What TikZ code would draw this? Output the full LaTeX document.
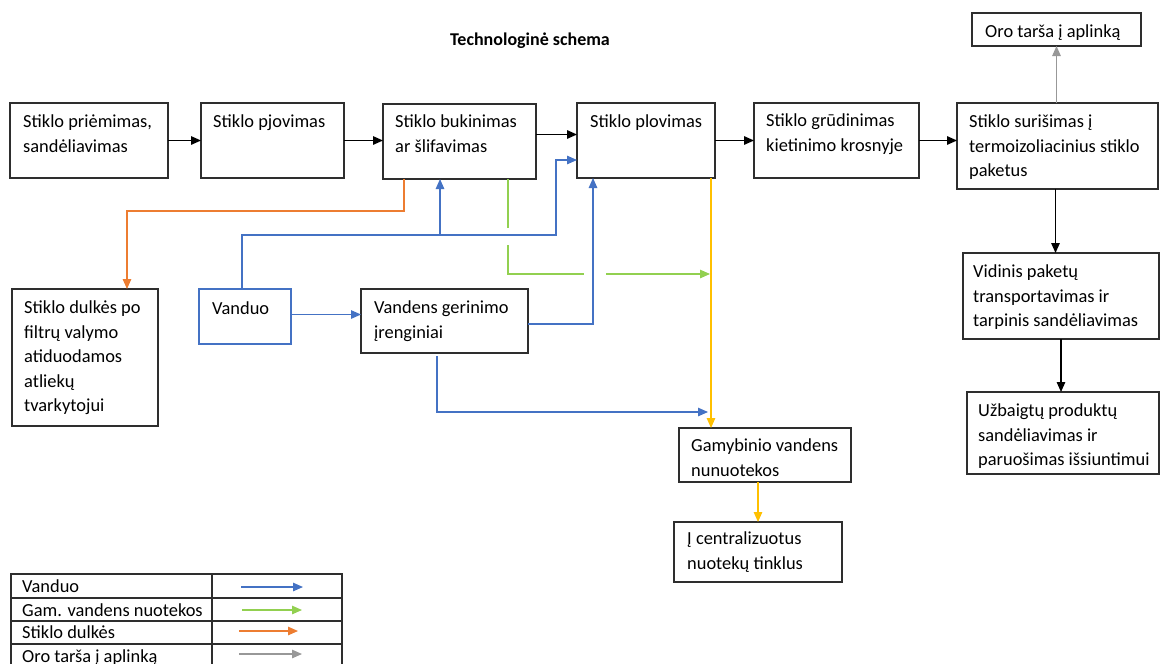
\documentclass[tikz,border=0pt]{standalone}
\usepackage{fontspec}
\setmainfont{Carlito}
\usetikzlibrary{arrows.meta}
\definecolor{cblue}{HTML}{4472C4}
\definecolor{cgreen}{HTML}{92D050}
\definecolor{corange}{HTML}{ED7D31}
\definecolor{cyellow}{HTML}{FFC000}
\definecolor{cgray}{HTML}{989898}
\begin{document}
\begin{tikzpicture}[x=1pt,y=-1pt,
  box/.style={draw=black!82, line width=1.3pt, anchor=north west, inner sep=0pt, outer sep=0pt},
  wbox/.style={box, draw=cblue, line width=1.1pt},
  txt/.style={anchor=north west, yshift=11pt, align=left, inner sep=0pt,
    font=\fontsize{18.4}{24.4}\selectfont, execute at begin node={\rule{0pt}{13pt}}},
  tip/.style={-{Triangle[length=10pt,width=8.5pt]}},
  blk/.style={tip, line width=1.4pt, black},
  bl/.style={line width=1.2pt, cblue},
  gr/.style={line width=1.2pt, cgreen},
  orl/.style={line width=1.2pt, corange},
  yel/.style={line width=1.2pt, cyellow},
  gry/.style={line width=1.2pt, cgray},
  legline/.style={draw=black!82, line width=1.1pt}]
\useasboundingbox (0,0) rectangle (1160,664);
\fill[white] (0,0) rectangle (1160,664);

% title
\node[anchor=base, inner sep=0pt, font=\fontsize{18}{24}\selectfont\bfseries] (title) at (530,45) {Technologinė schema};

% boxes
\node[box, minimum width=158pt, minimum height=75pt] (b1) at (10,103) {};
\node[box, minimum width=143pt, minimum height=75pt] (b2) at (201,103) {};
\node[box, minimum width=153pt, minimum height=75pt] (b3) at (383,104) {};
\node[box, minimum width=138pt, minimum height=75pt] (b4) at (577,103) {};
\node[box, minimum width=165pt, minimum height=75pt] (b5) at (754,103) {};
\node[box, minimum width=201pt, minimum height=86pt] (b6) at (957,103) {};
\node[box, minimum width=169pt, minimum height=33pt] (oro) at (972,13) {};
\node[box, minimum width=196pt, minimum height=86pt] (b7) at (963,253) {};
\node[box, minimum width=192pt, minimum height=82pt] (b8) at (967,392) {};
\node[box, minimum width=146pt, minimum height=137pt] (dust) at (12,289) {};
\node[wbox, minimum width=92pt, minimum height=55pt] (van) at (199,289) {};
\node[box, minimum width=167pt, minimum height=64pt] (ger) at (361,289) {};
\node[box, minimum width=172pt, minimum height=54pt] (gam) at (679,428) {};
\node[box, minimum width=168pt, minimum height=60pt] (cen) at (674,522) {};

% texts (coordinates are first-line baselines minus 2)
\node[txt] (t1) at (23,126) {Stiklo priėmimas,\\sandėliavimas};
\node[txt] (t2) at (213,125) {Stiklo pjovimas};
\node[txt] (t3) at (395,126) {Stiklo bukinimas\\ar šlifavimas};
\node[txt] (t4) at (590,125) {Stiklo plovimas};
\node[txt] (t5) at (766,125) {Stiklo grūdinimas\\kietinimo krosnyje};
\node[txt] (t6) at (969,126) {Stiklo surišimas į\\termoizoliacinius stiklo\\paketus};
\node[txt] (toro) at (985,35) {Oro tarša į aplinką};
\node[txt] (t7) at (973,276) {Vidinis paketų\\transportavimas ir\\tarpinis sandėliavimas};
\node[txt] (t8) at (978,415) {Užbaigtų produktų\\sandėliavimas ir\\paruošimas išsiuntimui};
\node[txt] (tdust) at (24,312) {Stiklo dulkės po\\filtrų valymo\\atiduodamos\\atliekų\\tvarkytojui};
\node[txt] (tvan) at (212,312) {Vanduo};
\node[txt] (tger) at (374,312) {Vandens gerinimo\\įrenginiai};
\node[txt] (tgam) at (691,450) {Gamybinio vandens\\nunuotekos};
\node[txt] (tcen) at (687,543) {Į centralizuotus\\nuotekų tinklus};

% main black flow
\coordinate (c34) at ([yshift=7pt]b3.east);
\draw[blk] (b1.east) -- (b1.east -| b2.west);
\draw[blk] (b2.east) -- (b2.east -| b3.west);
\draw[blk] (c34) -- (c34 -| b4.west);
\draw[blk] (b4.east) -- (b4.east -| b5.west);
\draw[blk] (b5.east) -- (b5.east -| b6.west);
\coordinate (c67) at ([xshift=-2pt]b6.south);
\draw[blk] (c67) -- (c67 |- b7.north);
\draw[blk] (b7.south) -- (b7.south |- b8.north);

% gray: air pollution
\draw[gry, tip] (oro.south |- b6.north) -- (oro.south);

% orange: glass dust
\coordinate (oa) at (404,211);
\coordinate (ob) at (127,211);
\draw[orl, tip] (oa |- b3.south) -- (oa) -- (ob) -- (ob |- dust.north);

% green: process waste water
\coordinate (ga1) at (508,228);
\coordinate (ga2) at (508,245);
\coordinate (ga3) at (508,274);
\coordinate (ga4) at (584,274);
\coordinate (ga5) at (606,274);
\coordinate (ga6) at (710,274);
\draw[gr] (ga1 |- b3.south) -- (ga1);
\draw[gr] (ga2) -- (ga3) -- (ga4);
\draw[gr, tip] (ga5) -- (ga6);

% blue: water
\coordinate (wa) at (242,235);
\coordinate (wb) at (556,235);
\coordinate (wc) at (556,160);
\coordinate (wd) at (440,235);
\draw[bl, tip] (wa |- van.north) -- (wa) -- (wb) -- (wc) -- (wc -| b4.west);
\draw[bl, tip] (wd) -- (wd |- b3.south);
\draw[bl, tip] ([yshift=2pt]van.east) -- ([yshift=2pt]van.east -| ger.west);
\coordinate (ge) at (593,324);
\draw[bl, tip] (ge -| ger.east) -- (ge) -- (ge |- b4.south);
\coordinate (gf) at (437,412);
\coordinate (gg) at (708,412);
\draw[bl, tip] ([yshift=-3pt]gf |- ger.south) -- (gf) -- (gg);

% yellow: waste water
\coordinate (ytop) at ([xshift=-4pt]b4.south east);
\draw[yel, tip] (ytop) -- (ytop |- gam.north);
\coordinate (yb) at ([xshift=-7pt]gam.south);
\draw[yel, tip] (yb) -- (yb |- cen.north);

% legend
\draw[legline] (11,574) rectangle (342,670);
\draw[legline] (11,598) -- (342,598);
\draw[legline] (11,621) -- (342,621);
\draw[legline] (11,644) -- (342,644);
\draw[legline] (212,574) -- (212,670);
\node[txt] (l1) at (22,590) {Vanduo};
\node[txt] (l2) at (22,614) {Gam. vandens nuotekos};
\node[txt] (l3) at (22,636) {Stiklo dulkės};
\node[txt] (l4) at (22,660) {Oro tarša į aplinką};
\coordinate (la1) at (241,587); \coordinate (lb1) at (303,587);
\coordinate (la2) at (242,610); \coordinate (lb2) at (302,610);
\coordinate (la3) at (239,631); \coordinate (lb3) at (298,631);
\coordinate (la4) at (239,654); \coordinate (lb4) at (302,654);
\draw[bl, tip] (la1) -- (lb1);
\draw[gr, tip] (la2) -- (lb2);
\draw[orl, tip] (la3) -- (lb3);
\draw[gry, tip] (la4) -- (lb4);
\end{tikzpicture}
\end{document}
